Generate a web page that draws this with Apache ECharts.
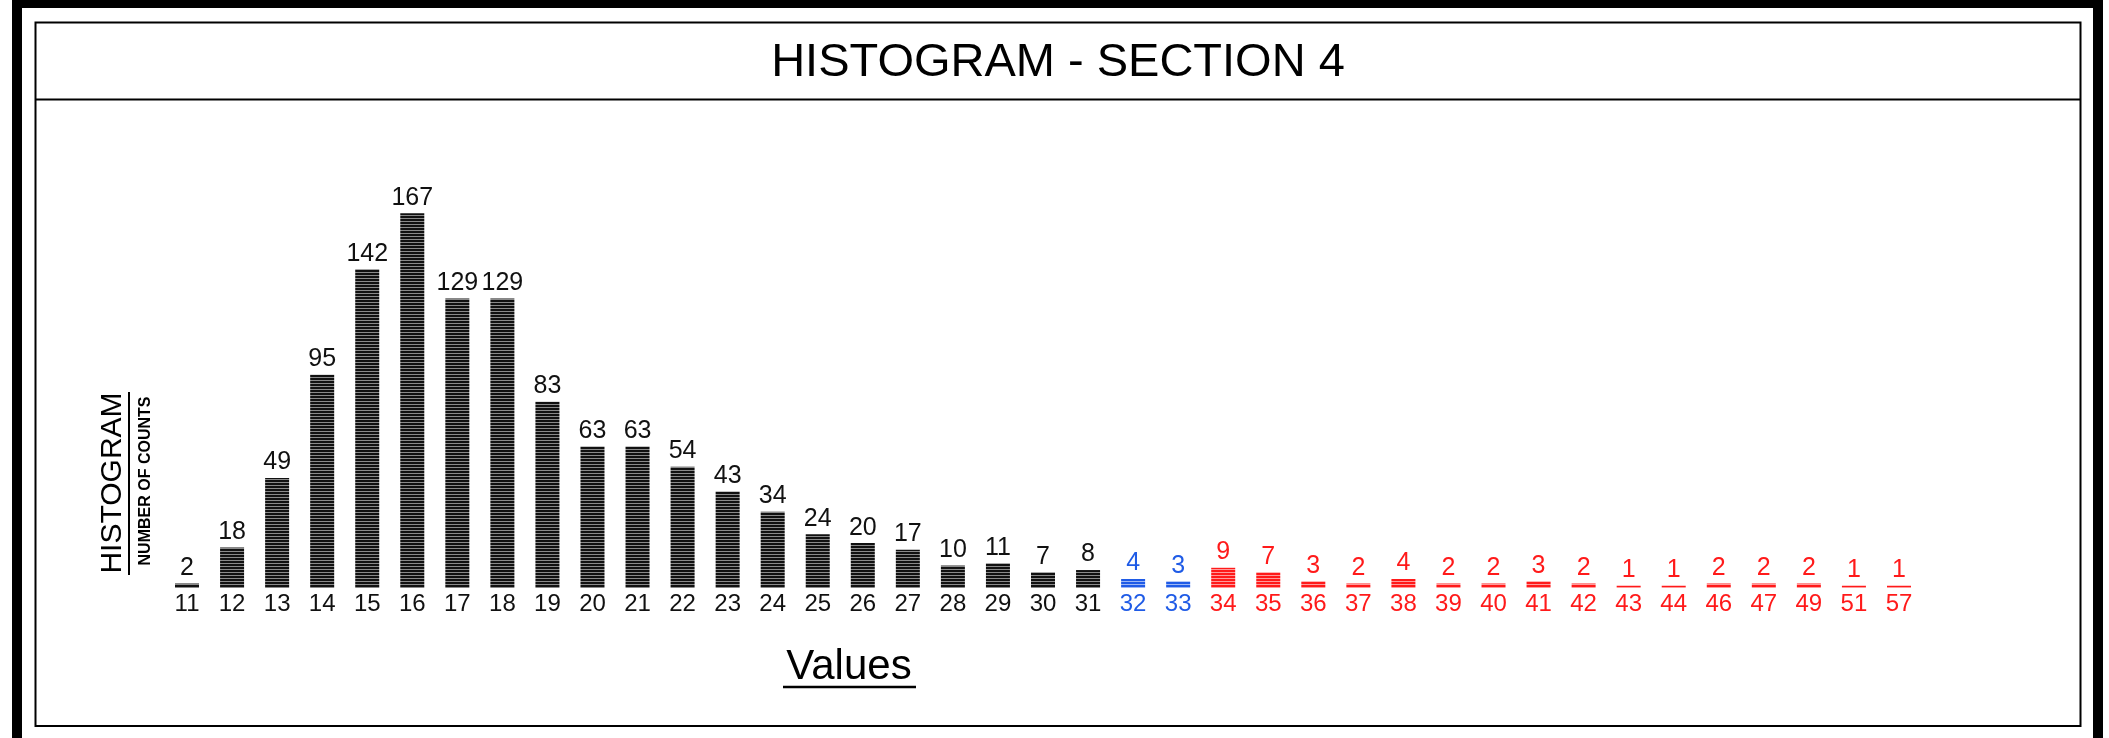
<!DOCTYPE html>
<html>
<head>
<meta charset="utf-8">
<style>
  html, body { margin: 0; padding: 0; background: #ffffff; }
  #chart { width: 2109px; height: 738px; }
</style>
<script src="https://cdn.jsdelivr.net/npm/echarts@6/dist/echarts.min.js"></script>
</head>
<body>
<div id="chart"></div>
<script>
// ---- data ----
const titleText = 'HISTOGRAM - SECTION 4';
const yTitle = 'HISTOGRAM';
const ySubtitle = 'NUMBER OF COUNTS';
const xTitle = 'Values';
const categories = ['11','12','13','14','15','16','17','18','19','20','21','22','23','24','25','26','27','28','29','30','31','32','33','34','35','36','37','38','39','40','41','42','43','44','46','47','49','51','57'];
const counts =     [2, 18, 49, 95, 142, 167, 129, 129, 83, 63, 63, 54, 43, 34, 24, 20, 17, 10, 11, 7, 8, 4, 3, 9, 7, 3, 2, 4, 2, 2, 3, 2, 1, 1, 2, 2, 2, 1, 1];
// group of each category: 0 = normal (black), 1 = blue, 2 = red
const groups =     [0, 0, 0, 0, 0, 0, 0, 0, 0, 0, 0, 0, 0, 0, 0, 0, 0, 0, 0, 0, 0, 1, 1, 2, 2, 2, 2, 2, 2, 2, 2, 2, 2, 2, 2, 2, 2, 2, 2];

// ---- styles ----
const groupColors = ['#111111', '#1f5be6', '#ff1a1a'];
const stripeColors = ['#8a8a8a', '#9db6f5', '#ff9a9a'];
const numFont = '"Liberation Sans", Arial, sans-serif';
const sansFont = '"Liberation Sans", Arial, sans-serif';

function stripePattern(base, light) {
  const c = document.createElement('canvas');
  c.width = 4; c.height = 3;
  const g = c.getContext('2d');
  g.fillStyle = base; g.fillRect(0, 0, 4, 3);
  g.fillStyle = light; g.fillRect(0, 2, 4, 1);
  return { image: c, repeat: 'repeat' };
}
const patterns = groupColors.map((c, i) => stripePattern(c, stripeColors[i]));

const chart = echarts.init(document.getElementById('chart'), null, { renderer: 'canvas' });

const option = {
  backgroundColor: '#ffffff',
  animation: false,
  grid: { left: 164.5, right: 187.5, top: 184, bottom: 150, containLabel: false },
  xAxis: {
    type: 'category',
    data: categories,
    axisLine: { show: false },
    axisTick: { show: false },
    splitLine: { show: false },
    axisLabel: {
      interval: 0,
      margin: 4,
      fontSize: 24,
      fontFamily: numFont,
      color: (val, idx) => groupColors[groups[idx]]
    }
  },
  yAxis: {
    type: 'value',
    min: 0,
    max: 180,
    show: false,
    splitLine: { show: false }
  },
  series: [{
    type: 'bar',
    barWidth: 24,
    data: counts.map((v, i) => ({
      value: v,
      itemStyle: { color: patterns[groups[i]] },
      label: { color: groupColors[groups[i]] }
    })),
    label: {
      show: true,
      position: 'top',
      distance: 3,
      fontSize: 25,
      fontFamily: numFont
    }
  }],
  graphic: [
    // outer thick border (top, left, right)
    { type: 'rect', silent: true, shape: { x: 17, y: 3, width: 2081, height: 820 },
      style: { fill: null, stroke: '#000000', lineWidth: 10 } },
    // inner frame
    { type: 'rect', silent: true, shape: { x: 35.5, y: 22.5, width: 2045, height: 703.5 },
      style: { fill: null, stroke: '#000000', lineWidth: 2 } },
    // title divider
    { type: 'line', silent: true, shape: { x1: 35.5, y1: 99.5, x2: 2080.5, y2: 99.5 },
      style: { stroke: '#000000', lineWidth: 2 } },
    // title
    { type: 'text', silent: true, x: 1058, y: 63,
      style: { text: titleText, font: '47px ' + sansFont, fill: '#000000',
               textAlign: 'center', textVerticalAlign: 'middle' } },
    // y title (rotated)
    { type: 'text', silent: true, x: 113, y: 483, rotation: Math.PI / 2,
      style: { text: yTitle, font: '30px ' + sansFont, fill: '#000000',
               textAlign: 'center', textVerticalAlign: 'middle' } },
    { type: 'line', silent: true, shape: { x1: 129, y1: 392, x2: 129, y2: 575 },
      style: { stroke: '#000000', lineWidth: 2 } },
    { type: 'text', silent: true, x: 146, y: 481, rotation: Math.PI / 2,
      style: { text: ySubtitle, font: 'bold 16px ' + sansFont, fill: '#000000',
               textAlign: 'center', textVerticalAlign: 'middle' } },
    // x title
    { type: 'text', silent: true, x: 849, y: 667,
      style: { text: xTitle, font: '42px ' + sansFont, fill: '#000000',
               textAlign: 'center', textVerticalAlign: 'middle' } },
    { type: 'line', silent: true, shape: { x1: 783, y1: 687, x2: 916, y2: 687 },
      style: { stroke: '#000000', lineWidth: 2.5 } }
  ]
};

chart.setOption(option);
</script>
</body>
</html>
